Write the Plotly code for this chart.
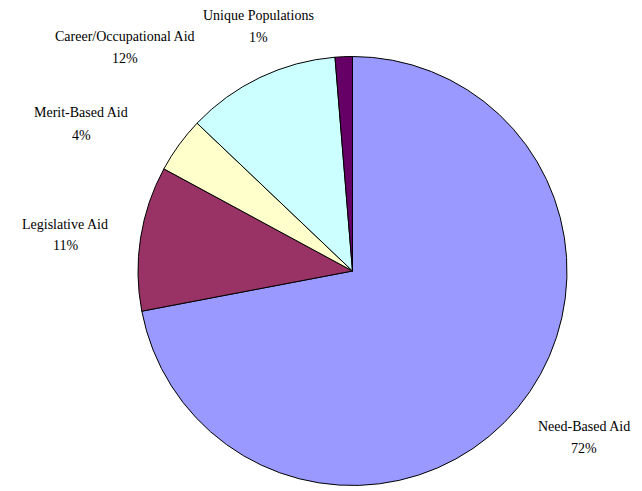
import plotly.graph_objects as go

categories = ["Need-Based Aid", "Legislative Aid", "Merit-Based Aid", "Career/Occupational Aid", "Unique Populations"]
values = [72.0, 10.9, 4.2, 11.6, 1.3]
pct_labels = ["72%", "11%", "4%", "12%", "1%"]
colors = ["#9999FF", "#993366", "#FFFFCC", "#CCFFFF", "#660066"]

W, H = 642, 491
OFF = 8  # page body margin offset

fig = go.Figure(go.Pie(
    labels=categories,
    values=values,
    textinfo="none",
    sort=False,
    direction="clockwise",
    rotation=0,
    marker=dict(colors=colors, line=dict(color="black", width=1)),
    showlegend=False,
    hoverinfo="label+percent",
    domain=dict(x=[(138 - OFF) / W, (567 - OFF) / W],
                y=[1 - (487 - OFF) / H, 1 - (55 - OFF) / H]),
))

# label placement (pixel centres of the name line; percent line sits 22px below)
label_pos = [(584, 426), (65, 224), (81, 113), (125, 36), (258, 15)]
font = dict(family="Liberation Serif", size=14, color="black")
for name, pct, (px, py) in zip(categories, pct_labels, label_pos):
    px -= OFF
    py -= OFF
    fig.add_annotation(text=name, x=px / W, y=1 - py / H, xref="paper", yref="paper",
                       xanchor="center", yanchor="middle", showarrow=False, font=font)
    fig.add_annotation(text=pct, x=px / W, y=1 - (py + 22) / H, xref="paper", yref="paper",
                       xanchor="center", yanchor="middle", showarrow=False, font=font)

fig.update_layout(
    width=W, height=H,
    margin=dict(l=0, r=0, t=0, b=0),
    paper_bgcolor="white",
    plot_bgcolor="white",
)

fig.write_html("out.html")
